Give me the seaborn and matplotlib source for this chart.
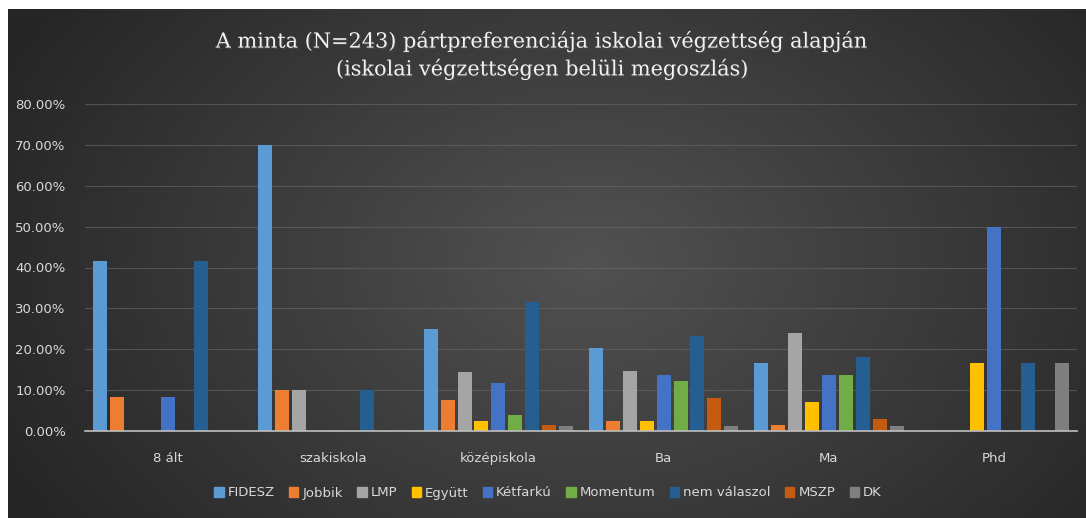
import pandas as pd
import numpy as np
import matplotlib
matplotlib.use('Agg')
import matplotlib.pyplot as plt
import matplotlib.patheffects as pe
from matplotlib.ticker import FuncFormatter
import seaborn as sns

# Adatok (leolvasva az ábráról, %)
vegzettseg = ['8 ált', 'szakiskola', 'középiskola', 'Ba', 'Ma', 'Phd']
partok = ['FIDESZ', 'Jobbik', 'LMP', 'Együtt', 'Kétfarkú', 'Momentum',
          'nem válaszol', 'MSZP', 'DK']

fidesz = [41.67, 70.0, 24.9, 20.4, 16.6, 0.0]
jobbik = [8.33, 10.0, 7.7, 2.4, 1.4, 0.0]
lmp = [0.0, 10.0, 14.4, 14.8, 24.0, 0.0]
egyutt = [0.0, 0.0, 2.4, 2.4, 7.2, 16.67]
ketfarku = [8.33, 0.0, 11.8, 13.6, 13.6, 50.0]
momentum = [0.0, 0.0, 3.9, 12.2, 13.6, 0.0]
nem_valaszol = [41.67, 10.0, 31.5, 23.3, 18.1, 16.67]
mszp = [0.0, 0.0, 1.4, 8.0, 2.9, 0.0]
dk = [0.0, 0.0, 1.3, 1.3, 1.2, 16.67]

szinek = ['#5B9BD5', '#ED7D31', '#A5A5A5', '#FFC000', '#4472C4',
          '#70AD47', '#255E91', '#C55A11', '#7F7F7F']

sorok = [fidesz, jobbik, lmp, egyutt, ketfarku, momentum, nem_valaszol, mszp, dk]
df = pd.DataFrame([
    {'vegzettseg': v, 'part': p, 'ertek': sorok[i][j]}
    for i, p in enumerate(partok) for j, v in enumerate(vegzettseg)
])

sns.set_style('dark')
plt.rcParams['font.family'] = ['DejaVu Sans']

W, H = 1086, 518
fig = plt.figure(figsize=(W / 100, H / 100), dpi=100, facecolor='white')

# háttér: sötét radiális átmenet
bg = fig.add_axes([8 / W, 0, 1 - 8 / W, 1 - 9 / H])
yy, xx = np.mgrid[0:1:300j, 0:1:600j]
r = np.sqrt(((xx - 0.54) / 0.6) ** 2 + ((yy - 0.5) / 0.9) ** 2)
r = np.clip(r, 0, 1)
c = 0.32 - 0.17 * r
bg.imshow(np.dstack([c, c, c]), aspect='auto', extent=[0, 1, 0, 1])
bg.axis('off')

ax = fig.add_axes([85 / W, (H - 431) / H, (1077 - 85) / W, (431 - 104) / H])
ax.set_facecolor('none')
sns.barplot(data=df, x='vegzettseg', y='ertek', hue='part', palette=szinek,
            saturation=1, width=0.92, gap=0.17, ax=ax, legend=False,
            linewidth=0)

ax.set_ylim(0, 80)
ax.set_yticks(range(0, 81, 10))
ax.yaxis.set_major_formatter(FuncFormatter(lambda v, _: f'{v:.2f}%'))
ax.grid(axis='y', color='#6a6a6a', linewidth=0.8, alpha=0.6)
ax.grid(axis='x', visible=False)
ax.set_axisbelow(True)
for s in ['top', 'right', 'left']:
    ax.spines[s].set_visible(False)
ax.spines['bottom'].set_color('#bfbfbf')
ax.spines['bottom'].set_linewidth(1.2)
ax.tick_params(axis='both', length=0, colors='#d9d9d9', labelsize=9.5)
ax.tick_params(axis='y', pad=14)
ax.tick_params(axis='x', pad=15)
ax.set_xlabel('')
ax.set_ylabel('')

fig.text(0.5, 1 - 55 / H,
         'A minta (N=243) pártpreferenciája iskolai végzettség alapján\n'
         '(iskolai végzettségen belüli megoszlás)',
         ha='center', va='center', color='#f2f2f2', fontsize=15,
         family=['DejaVu Serif'], linespacing=1.4,
         path_effects=[pe.withSimplePatchShadow(offset=(1, -1), alpha=0.7)])

kezelok = [plt.Rectangle((0, 0), 1, 1, color=c) for c in szinek]
leg = fig.legend(kezelok, partok, loc='center', ncol=9,
                 bbox_to_anchor=(548 / W, 1 - 493 / H), frameon=False,
                 handlelength=0.7, handleheight=0.7, handletextpad=0.3,
                 columnspacing=1.1, fontsize=9.5)
for t in leg.get_texts():
    t.set_color('#d9d9d9')

fig.savefig('out.png', dpi=100, facecolor='white')
